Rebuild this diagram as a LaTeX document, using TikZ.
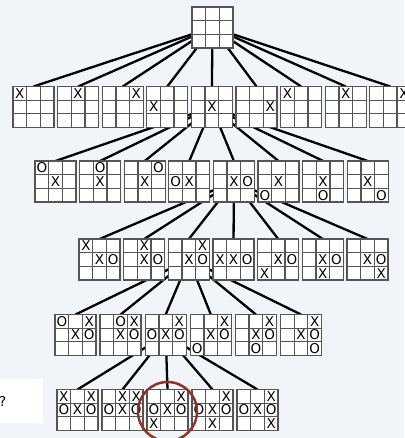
\documentclass[tikz,border=0pt]{standalone}
\usepackage{fontspec}
\setmainfont{DejaVu Sans}
\definecolor{sfondo}{RGB}{241,244,248}
\definecolor{cerchio}{RGB}{140,52,38}
\definecolor{linea}{RGB}{85,85,85}
\pgfdeclarelayer{fondo}
\pgfdeclarelayer{archi}
\pgfsetlayers{fondo,archi,main}

% Tavola del tris: nome, centro x, centro y, segni (casella/segno)
\newcommand{\tavola}[4]{%
  \node[tavola] (#1) at ({#2},{#3}) {};
  \foreach \k in {1,2} {
    \draw[griglia] ([xshift=\k*13.667pt]#1.north west) -- ([xshift=\k*13.667pt]#1.south west);
    \draw[griglia] ([yshift=-\k*13.667pt]#1.north west) -- ([yshift=-\k*13.667pt]#1.north east);
  }
  \foreach \pos/\seg in {#4} {
    \pgfmathtruncatemacro\col{mod(\pos-1,3)}
    \pgfmathtruncatemacro\rig{div(\pos-1,3)}
    \node[segno] at ([xshift=(\col+0.5)*13.667pt, yshift=-(\rig+0.5)*13.667pt]#1.north west) {\seg};
  }
}

\begin{document}
\begin{tikzpicture}[x=1pt, y=-1pt,
    tavola/.style={draw=linea, line width=1.3pt, fill=white, minimum size=41pt, inner sep=0pt, outer sep=0pt},
    griglia/.style={draw=linea, line width=1.3pt},
    segno/.style={inner sep=0pt, font=\fontsize{13.5}{14}\selectfont},
    arco/.style={line width=2.3pt, black}]
        % Sfondo
        \useasboundingbox (0,0) rectangle (404,438);
        \begin{pgfonlayer}{fondo}
            \fill[sfondo] (0,0) rectangle (404,438);
            \fill[white] (0,379) rectangle (43,423);
        \end{pgfonlayer}
        \node[segno, anchor=west] (q) at (-1,401) {?};

        % Radice
        \tavola{r}{212.5}{27.5}{5/{}}

        % Prima mossa di X
        \foreach \c [count=\i] in {1,2,3,4,5,6,1,2,3} {
            \tavola{a\i}{33.5+44.6*(\i-1)}{107}{\c/X}
        }

        % Risposte di O
        \foreach \c [count=\i] in {1,2,3,4,6,7,8,9} {
            \tavola{b\i}{55.5+44.6*(\i-1)}{181.5}{5/X,\c/O}
        }

        % Seconda mossa di X
        \foreach \c [count=\i] in {1,2,3,4,7,8,9} {
            \tavola{c\i}{99.6+44.65*(\i-1)}{259.5}{5/X,6/O,\c/X}
        }

        % Seconda mossa di O
        \foreach \c [count=\i] in {1,2,4,7,8,9} {
            \tavola{d\i}{75.5+45.1*(\i-1)}{335}{3/X,5/X,6/O,\c/O}
        }

        % Terza mossa di X
        \foreach \c [count=\i] in {1,2,7,8,9} {
            \tavola{e\i}{77.5+45*(\i-1)}{410}{3/X,4/O,5/X,6/O,\c/X}
        }

        % Archi (sotto le tavole)
        \begin{pgfonlayer}{archi}
            \foreach \i in {1,...,9} \draw[arco] (r.center) -- (a\i.north);
            \foreach \i in {1,...,8} \draw[arco] (a5.center) -- (b\i.north);
            \foreach \i in {1,...,7} \draw[arco] (b5.center) -- (c\i.north);
            \foreach \i in {1,...,6} \draw[arco] (c3.center) -- (d\i.north);
            \foreach \i in {1,...,5} \draw[arco] (d3.center) -- (e\i.north);
        \end{pgfonlayer}

        % Mossa scelta
        \draw[cerchio, line width=2.5pt] (e3.center) ++(0,1.5) circle (29.5);
\end{tikzpicture}
\end{document}
